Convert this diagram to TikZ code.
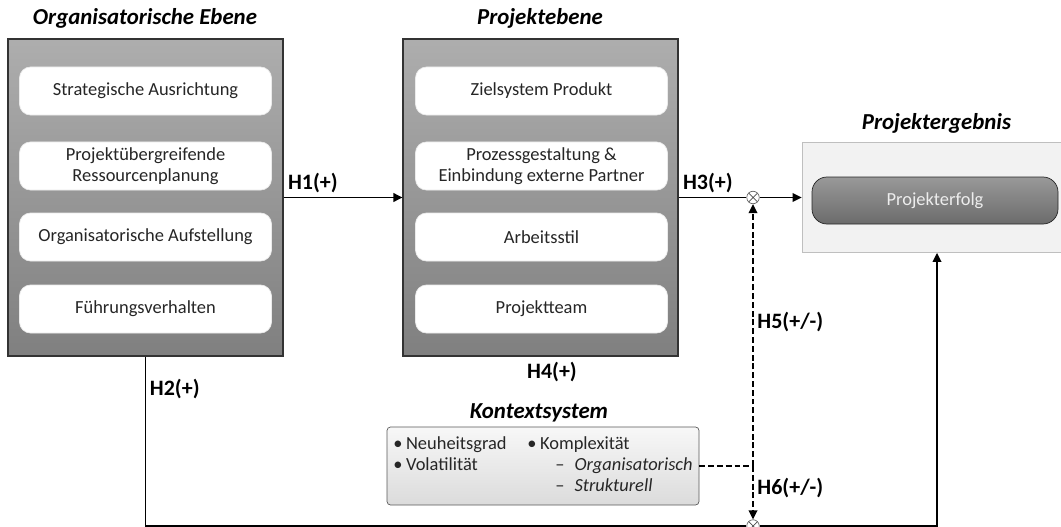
\documentclass[tikz,border=0pt]{standalone}
\usepackage{fontspec}
\setmainfont{Carlito}
\usetikzlibrary{arrows.meta}

\begin{document}
\begin{tikzpicture}[>={Triangle[length=1.8mm,width=1.7mm]}]
    \tikzset{ebene/.style = {draw=black!80, line width=0.6pt, top color=black!32, bottom color=black!50, minimum width=5.5cm, minimum height=6.34cm}}
    \tikzset{faktor/.style = {draw=black!8, fill=white, rounded corners=0.22cm, minimum width=5.04cm, minimum height=0.96cm, align=center, text=black!85, font=\fontsize{10.5}{11.6}\selectfont}}
    \tikzset{titel/.style = {font=\fontsize{13}{15}\selectfont\bfseries\itshape}}
    \tikzset{hyp/.style = {font=\fontsize{12.5}{14}\selectfont\bfseries, inner sep=2pt}}
    \tikzset{linie/.style = {line width=1.1pt}}
    \tikzset{pfeil/.style = {->, line width=1.1pt}}
    \tikzset{gestrichelt/.style = {line width=1.1pt, dash pattern=on 3.4pt off 1.6pt}}
    \tikzset{knoten/.style = {shape=circle, draw=black!60, fill=white, minimum size=0.25cm, inner sep=0pt,
        path picture={\draw[black!70] (path picture bounding box.north west) -- (path picture bounding box.south east)
            (path picture bounding box.north east) -- (path picture bounding box.south west);}}}
    \useasboundingbox (0,0) rectangle (21.22,-10.54);
    % Organisatorische Ebene
    \node[titel] (t-org) at (2.9,-0.36) {Organisatorische Ebene};
    \node[ebene] (org) at (2.91,-3.95) {};
    \node[faktor] (o1) at (2.91,-1.82) {Strategische Ausrichtung};
    \node[faktor] (o2) at (2.91,-3.32) {Projektübergreifende\\Ressourcenplanung};
    \node[faktor] (o3) at (2.91,-4.74) {Organisatorische Aufstellung};
    \node[faktor] (o4) at (2.91,-6.18) {Führungsverhalten};
    % Projektebene
    \node[titel] (t-prj) at (10.8,-0.36) {Projektebene};
    \node[ebene] (prj) at (10.81,-3.95) {};
    \node[faktor] (p1) at (10.83,-1.82) {Zielsystem Produkt};
    \node[faktor] (p2) at (10.83,-3.32) {Prozessgestaltung \&\\Einbindung externe Partner};
    \node[faktor] (p3) at (10.83,-4.74) {Arbeitsstil};
    \node[faktor] (p4) at (10.83,-6.18) {Projektteam};
    % Projektergebnis
    \node[titel] (t-erg) at (18.73,-2.46) {Projektergebnis};
    \node[draw=black!25, fill=black!5, minimum width=5.4cm, minimum height=2.2cm] (erg) at (18.74,-3.95) {};
    \node[draw=black!85, rounded corners=0.3cm, top color=black!40, bottom color=black!58, text=white!93!black,
        minimum width=4.92cm, minimum height=0.94cm, font=\fontsize{10.5}{12}\selectfont] (pe) at (18.7,-4.01) {Projekterfolg};
    % Kontextsystem
    \node[titel] (t-kon) at (10.78,-8.26) {Kontextsystem};
    \node[draw=black!65, rounded corners=2pt, top color=black!3, bottom color=black!14, minimum width=6.24cm,
        minimum height=1.56cm, inner sep=0.12cm, text=black!85, font=\fontsize{10.5}{12}\selectfont] (kon) at (10.86,-9.32) {%
        \begin{tabular}{@{}p{2.68cm}@{}l@{}}
        \textbullet\hspace{2pt}Neuheitsgrad & \textbullet\hspace{2pt}Komplexität\\
        \textbullet\hspace{2pt}Volatilität & \hspace{0.56cm}--\hspace{0.2cm}\textit{Organisatorisch}\\
        & \hspace{0.56cm}--\hspace{0.2cm}\textit{Strukturell}
        \end{tabular}};
    % Verknuepfungen
    \node[knoten] (x1) at (15.06,-3.95) {};
    \node[knoten] (x2) at (15.06,-10.52) {};
    \coordinate (kx) at (x1 |- kon.east);
    \draw[pfeil] (org.east) -- node[hyp, anchor=south west, pos=0] {H1(+)} (prj.west);
    \draw[linie] (prj.east) -- node[hyp, anchor=south west, pos=0] {H3(+)} (x1.west);
    \draw[pfeil] (x1.east) -- (erg.west);
    \draw[linie] (org.south) -- node[hyp, right, pos=0.19] {H2(+)} (org.south |- x2) -- (x2.west);
    \draw[pfeil] (x2.east) -| (erg.south);
    \node[hyp] (h4) at (11.04,-7.44) {H4(+)};
    \draw[gestrichelt] (kon.east) -- (kx);
    \draw[gestrichelt, ->] (kx) -- node[hyp, right, pos=0.55] {H5(+/-)} (x1.south);
    \draw[gestrichelt, ->] (kx) -- node[hyp, right, pos=0.41] {H6(+/-)} (x2.north);
\end{tikzpicture}
\end{document}
